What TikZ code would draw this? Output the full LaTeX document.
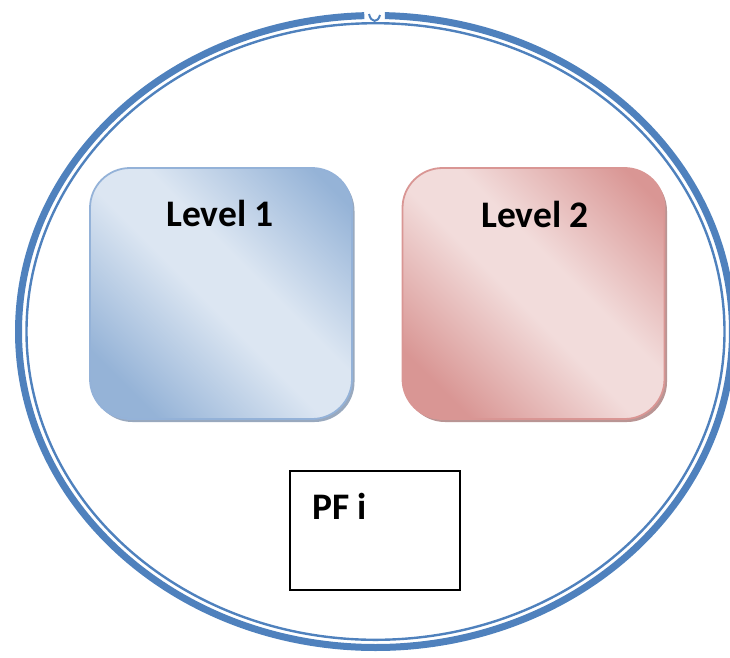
\documentclass[tikz,border=0pt]{standalone}
\usepackage{fontspec}
\setmainfont{Carlito}
\usetikzlibrary{shadows,calc}
\definecolor{ringblue}{HTML}{4F81BD}
\definecolor{blight}{HTML}{DCE6F2}
\definecolor{bdark}{HTML}{95B3D7}
\definecolor{bborder}{HTML}{94B2D8}
\definecolor{bshadow}{HTML}{7F93AE}
\definecolor{plight}{HTML}{F2DCDB}
\definecolor{pdark}{HTML}{D99694}
\definecolor{pborder}{HTML}{D99694}
\definecolor{pshadow}{HTML}{A87A79}
\pgfdeclarehorizontalshading{bluediag}{100bp}{color(0bp)=(bdark); color(24bp)=(bdark); color(47bp)=(blight); color(57bp)=(blight); color(80bp)=(bdark); color(100bp)=(bdark)}
\pgfdeclarehorizontalshading{pinkdiag}{100bp}{color(0bp)=(pdark); color(24bp)=(pdark); color(47bp)=(plight); color(57bp)=(plight); color(80bp)=(pdark); color(100bp)=(pdark)}
\tikzset{
  lvlbox/.style={rounded corners=40pt, line width=1.8pt, minimum width=262pt, minimum height=251pt, inner sep=0pt, shading angle=45},
  lbl/.style={font=\fontsize{37.5}{42}\selectfont\bfseries, anchor=base west, inner sep=0pt},
}
\begin{document}
\begin{tikzpicture}[x=1pt,y=-1pt]
\useasboundingbox (0,0) rectangle (730,657);
% outer ring
\coordinate (rc) at (375.5,331.5);
\draw[ringblue, line width=7pt] ($(rc)+(271.5:357 and 316)$) arc[start angle=271.5, end angle=628.2, x radius=357, y radius=316];
\draw[ringblue, line width=2.4pt] (rc) ellipse[x radius=349, y radius=308.3];
\coordinate (hk1) at (369,14);
\coordinate (hk2) at (380,15);
\draw[ringblue, line width=2pt] (hk1) .. controls (371,23) and (378,23) .. (hk2);
% boxes
\node[lvlbox, shading=bluediag, draw=bborder, drop shadow={shadow xshift=2.5pt, shadow yshift=-3pt, fill=bshadow, opacity=0.8}] (box1) at (221,293.5) {};
\node[lvlbox, shading=pinkdiag, draw=pborder, drop shadow={shadow xshift=2.5pt, shadow yshift=-3pt, fill=pshadow, opacity=0.8}] (box2) at (533.5,293.5) {};
\node[draw=black, line width=1.5pt, minimum width=170pt, minimum height=119pt, inner sep=0pt, fill=white] (box3) at (375,530.5) {};
% labels
\node[lbl] (l1) at (166,226) {Level 1};
\node[lbl] (l2) at (481,227) {Level 2};
\node[lbl] (l3) at (312,519) {PF i};
\end{tikzpicture}
\end{document}
